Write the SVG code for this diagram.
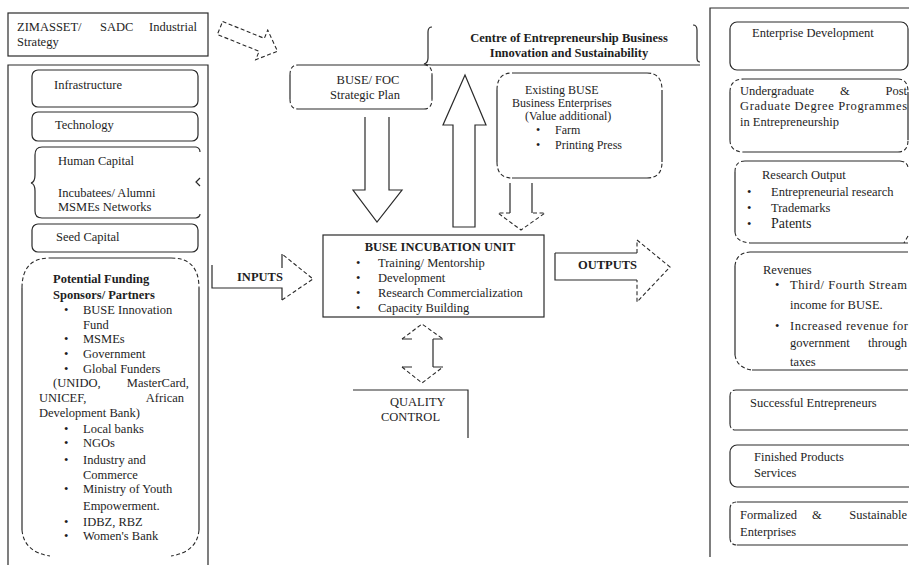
<svg xmlns="http://www.w3.org/2000/svg" width="909" height="565" viewBox="0 0 909 565">
<style>
.s{fill:none;stroke:#2a2a2a;stroke-width:1.2}
.d{fill:none;stroke:#2a2a2a;stroke-width:1.1;stroke-dasharray:4 2.5}
text{font-family:"Liberation Serif","Times New Roman",serif;font-size:12.5px;fill:#1e1e1e}
.b{font-weight:bold}
.m{text-anchor:middle}
.e{text-anchor:end}
.sm{font-size:12px}
</style>
<rect width="909" height="565" fill="#fff"/>

<g id="zimasset">
<rect class="s" x="8" y="13" width="200" height="43"/>
<text x="17" y="31">ZIMASSET/</text><text x="100" y="31">SADC</text><text x="197" y="31" class="e">Industrial</text>
<text x="17" y="46">Strategy</text>
</g>

<g id="left-panel">
<path class="s" d="M8,565 V65 H208 V565"/>
</g>

<g id="infrastructure">
<rect class="s" x="32" y="70" width="166" height="37" rx="6"/>
<text x="54" y="89">Infrastructure</text>
</g>
<g id="technology">
<rect class="s" x="32" y="112" width="166" height="29" rx="6"/>
<text x="55" y="129">Technology</text>
</g>
<g id="human-capital">
<path class="s" d="M42,147 H196 M42,218 H196"/>
<path class="s" d="M42,147 Q35,147 35,155 V175 Q35,182 31,183 Q35,184 35,191 V211 Q35,218 42,218"/>
<path class="s" d="M196,147 Q200,148 200,152 M200,178 L196,182 L200,186 M196,218 Q200,217 200,214"/>
<text x="58" y="165">Human Capital</text>
<text x="58" y="197">Incubatees/ Alumni</text>
<text x="58" y="211">MSMEs Networks</text>
</g>
<g id="seed-capital">
<rect class="s" x="32" y="224" width="166" height="28" rx="6"/>
<text x="56" y="241">Seed Capital</text>
</g>

<g id="funding">
<path class="s" d="M50,258 H171 M22,288 V530 M199,288 V530"/>
<path class="d" d="M22,288 Q22,258 50,258 M171,258 Q199,258 199,288 M22,530 Q24,552 50,556 M199,530 Q197,552 171,556"/>
<text x="53" y="283" class="b">Potential Funding</text>
<text x="53" y="299" class="b">Sponsors/ Partners</text>
<g>
<text x="64" y="314">•</text><text x="83" y="314">BUSE Innovation</text>
<text x="83" y="329">Fund</text>
<text x="64" y="343">•</text><text x="83" y="343">MSMEs</text>
<text x="64" y="358">•</text><text x="83" y="358">Government</text>
<text x="64" y="373">•</text><text x="83" y="373">Global Funders</text>
<text x="53" y="387">(UNIDO,</text><text x="189" y="387" class="e">MasterCard,</text>
<text x="39" y="402">UNICEF,</text><text x="184" y="402" class="e">African</text>
<text x="39" y="417">Development Bank)</text>
<text x="64" y="433">•</text><text x="83" y="433">Local banks</text>
<text x="64" y="447">•</text><text x="83" y="447">NGOs</text>
<text x="64" y="464">•</text><text x="83" y="464">Industry and</text>
<text x="83" y="479">Commerce</text>
<text x="64" y="493">•</text><text x="83" y="493">Ministry of Youth</text>
<text x="83" y="510">Empowerment.</text>
<text x="64" y="526">•</text><text x="83" y="526">IDBZ, RBZ</text>
<text x="64" y="540">•</text><text x="83" y="540">Women's Bank</text>
</g>
</g>

<g id="strategic-plan">
<path class="s" d="M298,65 H424 M298,109 H424 M290,75 V99 M432,75 V99"/>
<path class="d" d="M290,75 Q290,65 298,65 M424,65 Q432,65 432,75 M290,99 Q290,109 298,109 M424,109 Q432,109 432,99"/>
<text x="368" y="84" class="m">BUSE/ FOC</text>
<text x="365" y="99" class="m">Strategic Plan</text>
</g>

<g id="centre">
<path class="s" d="M432,27 Q428,27 428,32 V58 Q428,63 424,64 Q428,65 432,65 H700"/>
<path class="s" d="M693,25 Q697,25 697,30 V58 Q697,62 700,62"/>
<text x="569" y="42" class="m b">Centre of Entrepreneurship Business</text>
<text x="569" y="57" class="m b">Innovation and Sustainability</text>
</g>

<g id="existing-enterprises">
<path class="s" d="M512,73 H647 M512,178 H647 M497,90 V162 M662,90 V162"/>
<path class="d" d="M497,90 Q497,73 512,73 M647,73 Q662,73 662,90 M497,162 Q497,178 512,178 M647,178 Q662,178 662,162"/>
<text x="525" y="94" class="sm">Existing BUSE</text>
<text x="512" y="107" class="sm">Business Enterprises</text>
<text x="525" y="120" class="sm">(Value additional)</text>
<text x="536" y="134" class="sm">•</text><text x="555" y="134" class="sm">Farm</text>
<text x="536" y="149" class="sm">•</text><text x="555" y="149" class="sm">Printing Press</text>
</g>

<g id="incubation-unit">
<rect class="s" x="323" y="235" width="221" height="82"/>
<text x="440" y="251" class="m b">BUSE INCUBATION UNIT</text>
<text x="356" y="267">•</text><text x="378" y="267">Training/ Mentorship</text>
<text x="356" y="282">•</text><text x="378" y="282">Development</text>
<text x="356" y="297">•</text><text x="378" y="297">Research Commercialization</text>
<text x="356" y="312">•</text><text x="378" y="312">Capacity Building</text>
</g>

<g id="quality-control">
<path class="s" d="M353,390 H468 V438"/>
<text x="390" y="406">QUALITY</text>
<text x="381" y="421">CONTROL</text>
</g>

<g id="right-panel">
<path class="s" d="M909,8 H710 V557"/>
</g>

<g id="enterprise-development">
<rect class="s" x="730" y="22" width="178" height="48" rx="7"/>
<text x="752" y="37">Enterprise Development</text>
</g>
<g id="degree-programmes">
<path class="s" d="M744,79 H898 M744,152 H898 M730,92 V140 M908,92 V140"/>
<path class="d" d="M730,92 Q730,79 744,79 M898,79 Q908,79 908,92 M730,140 Q730,152 744,152 M898,152 Q908,152 908,140"/>
<text x="740" y="95">Undergraduate</text><text x="840" y="95">&amp;</text><text x="907" y="95" class="e">Post</text>
<text x="740" y="110" textLength="167" lengthAdjust="spacing">Graduate Degree Programmes</text>
<text x="740" y="126">in Entrepreneurship</text>
</g>
<g id="research-output">
<path class="s" d="M745,161 H900 M735,172 V232 M750,243 H908"/>
<path class="d" d="M735,172 Q735,161 745,161 M735,232 Q736,242 750,243 M900,161 Q908,162 908,168 M908,236 L904,243"/>
<text x="762" y="179">Research Output</text>
<text x="747" y="196">•</text><text x="771" y="196">Entrepreneurial research</text>
<text x="747" y="212">•</text><text x="771" y="212">Trademarks</text>
<text x="747" y="228">•</text><text x="771" y="228" style="font-size:14px">Patents</text>
</g>
<g id="revenues">
<path class="s" d="M750,252 H908 M735,266 V355 M752,370 H908"/>
<path class="d" d="M735,266 Q736,253 750,252 M735,355 Q737,368 752,370"/>
<text x="763" y="274">Revenues</text>
<text x="775" y="289">•</text><text x="790" y="289" textLength="117" lengthAdjust="spacing">Third/ Fourth Stream</text>
<text x="790" y="309">income for BUSE.</text>
<text x="775" y="330">•</text><text x="790" y="330" textLength="118" lengthAdjust="spacing">Increased revenue for</text>
<text x="790" y="347">government</text><text x="907" y="347" class="e">through</text>
<text x="790" y="366">taxes</text>
</g>
<g id="successful-entrepreneurs">
<path class="s" d="M736,390 H908 M730,396 V424 M736,430 H908"/>
<path class="d" d="M730,396 Q730,390 736,390 M730,424 Q730,430 736,430"/>
<text x="750" y="407">Successful Entrepreneurs</text>
</g>
<g id="finished-products">
<rect class="s" x="730" y="445" width="185" height="42" rx="7"/>
<text x="754" y="461">Finished Products</text>
<text x="754" y="477">Services</text>
</g>
<g id="formalized-enterprises">
<path class="s" d="M737,502 H908 M730,509 V538 M737,545 H908"/>
<path class="d" d="M730,509 Q730,502 737,502 M730,538 Q730,545 737,545"/>
<text x="740" y="519">Formalized</text><text x="812" y="519">&amp;</text><text x="907" y="519" class="e">Sustainable</text>
<text x="740" y="536">Enterprises</text>
</g>

<g id="connectors">
<polygon class="d" transform="translate(220,28) rotate(22)" points="0,-7 45,-7 45,-16 62,0 45,16 45,7 0,7"/>
<path class="s" d="M365,117 V190 H353 L377,222 L402,190 H389 V117"/>
<path class="s" d="M453,227 V125 H443 L465,75 L486,125 H475 V227 Z"/>
<path class="s" d="M510,183 V213 M532,183 V213"/>
<path class="d" d="M510,213 H498 L521,230 L545,213 H532"/>
<path class="s" d="M212,265 V288 H282 V300 M282,254 V268"/>
<path class="d" d="M282,300 L313,279 L282,254"/>
<text x="237" y="281" class="b">INPUTS</text>
<path class="s" d="M555,253 H637 M555,253 V280 H637"/>
<path class="d" d="M637,253 V240 L670,267 L637,302 V280"/>
<text x="578" y="269" class="b">OUTPUTS</text>
<path class="s" d="M402,339 H412 M433,339 H443 M433,339 V367 M402,367 H412 M433,367 H443"/>
<path class="d" d="M402,339 L422,324 L443,339 M402,367 L422,383 L443,367"/>
</g>
</svg>
